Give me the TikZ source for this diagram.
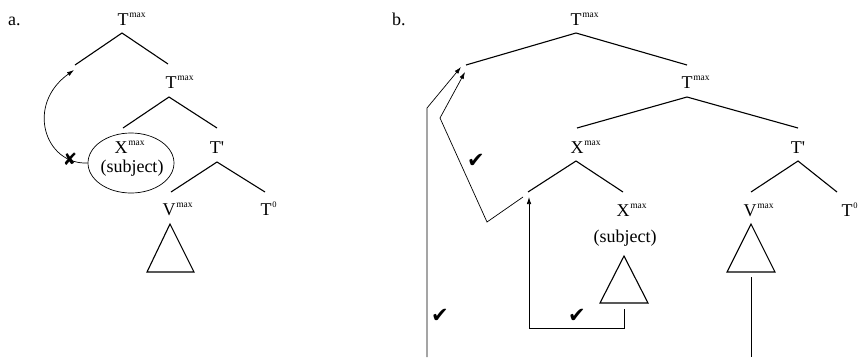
\documentclass[tikz,border=0pt]{standalone}
\usepackage{fontspec}
\setmainfont{Liberation Serif}
\newfontfamily\symf{DejaVu Sans}
\usetikzlibrary{arrows.meta,shapes.geometric}
\newcommand\smax{\rlap{\kern0.8pt\raisebox{7.6pt}{\fontsize{9.5}{10}\selectfont max}}}
\newcommand\szero{\rlap{\kern0.8pt\raisebox{7.5pt}{\fontsize{8.5}{9}\selectfont 0}}}
\tikzset{
  lab/.style={anchor=base, inner sep=0pt, font=\fontsize{18}{20}\selectfont},
  br/.style={line width=1.1pt},
  mv/.style={line width=0.7pt, -{Latex[length=7pt,width=4.5pt]}},
  ln/.style={line width=0.7pt},
  chk/.style={font=\symf\fontsize{21}{21}\selectfont, inner sep=0pt},
  tri/.style={line width=1.1pt}
}
\begin{document}
\begin{tikzpicture}[x=1pt,y=-1pt]
\useasboundingbox (0,0) rectangle (858,357);
% ---------------- panel a ----------------
\node[lab, anchor=base west] (alab) at (8,25) {a.};
\node[lab] (aT1) at (123,25) {T\smax};
\coordinate (aA1) at (122,33);
\coordinate (aL1) at (75,65);
\coordinate (aR1) at (168,64);
\draw[br] (aL1) -- (aA1) -- (aR1);
\node[lab] (aT2) at (171,88) {T\smax};
\coordinate (aA2) at (169,97);
\coordinate (aL2) at (123,128);
\coordinate (aR2) at (217,128);
\draw[br] (aL2) -- (aA2) -- (aR2);
\node[draw, ellipse, line width=0.7pt, minimum width=86pt, minimum height=60pt, inner sep=0pt] (subj) at (131,163) {};
\node[lab] (aX) at (121,153) {X\smax};
\node[lab] (asub) at (132,172) {(subject)};
\node[lab] (aTp) at (217,153) {T\textquotesingle};
\coordinate (aA3) at (217,162);
\coordinate (aL3) at (171,192);
\coordinate (aR3) at (265,192);
\draw[br] (aL3) -- (aA3) -- (aR3);
\node[lab] (aV) at (169,215) {V\smax};
\node[lab] (aT0) at (266,215) {T\szero};
\coordinate (atA) at (170,224);
\coordinate (atL) at (147,272);
\coordinate (atR) at (194,272);
\draw[tri] (atA) -- (atL) -- (atR) -- cycle;
\coordinate (atip) at (74,70);
\draw[mv] (subj.west) .. controls (45,165) and (25,105) .. (atip);
\node[font=\symf\fontsize{17}{17}\selectfont, inner sep=0pt] (across) at (70,159) {✘};
% ---------------- panel b ----------------
\node[lab, anchor=base west] (blab) at (392,25) {b.};
\node[lab] (bT1) at (576,25) {T\smax};
\coordinate (bA1) at (576,33);
\coordinate (bL1) at (466,65);
\coordinate (bR1) at (687,65);
\draw[br] (bL1) -- (bA1) -- (bR1);
\node[lab] (bT2) at (687,88) {T\smax};
\coordinate (bA2) at (687,97);
\coordinate (bL2) at (577,128);
\coordinate (bR2) at (798,128);
\draw[br] (bL2) -- (bA2) -- (bR2);
\node[lab] (bX) at (577,153) {X\smax};
\coordinate (bA3) at (576,161);
\coordinate (bL3) at (528,192);
\coordinate (bR3) at (623,192);
\draw[br] (bL3) -- (bA3) -- (bR3);
\node[lab] (bTp) at (798,153) {T\textquotesingle};
\coordinate (bA4) at (798,161);
\coordinate (bL4) at (751,192);
\coordinate (bR4) at (837,192);
\draw[br] (bL4) -- (bA4) -- (bR4);
\node[lab] (bX2) at (623,216) {X\smax};
\node[lab] (bsub) at (625,242) {(subject)};
\node[lab] (bV) at (750,216) {V\smax};
\node[lab] (bT0) at (847,216) {T\szero};
\coordinate (bsA) at (624,256);
\coordinate (bsL) at (600,303);
\coordinate (bsR) at (648,303);
\draw[tri] (bsA) -- (bsL) -- (bsR) -- cycle;
\coordinate (bvA) at (751,224);
\coordinate (bvL) at (727,272);
\coordinate (bvR) at (775,272);
\draw[tri] (bvA) -- (bvL) -- (bvR) -- cycle;
% vertical line below V triangle
\coordinate (bv1) at (751,277);
\coordinate (bv2) at (751,357);
\draw[ln] (bv1) -- (bv2);
% box arrow
\coordinate (bb1) at (624,309);
\coordinate (bb2) at (624,328);
\coordinate (bb3) at (529,328);
\coordinate (bb4) at (529,197);
\draw[mv] (bb1) -- (bb2) -- (bb3) -- (bb4);
% zigzag arrow
\coordinate (bz1) at (523,197);
\coordinate (bz2) at (487,222);
\coordinate (bz3) at (440,118);
\coordinate (bz4) at (465,72);
\draw[mv] (bz1) -- (bz2) -- (bz3) -- (bz4);
% outer arrow
\coordinate (bo1) at (427,357);
\coordinate (bo2) at (427,108);
\coordinate (bo3) at (461,67);
\draw[mv] (bo1) -- (bo2) -- (bo3);
% check marks
\node[chk] (c1) at (476,161) {✔};
\node[chk] (c2) at (440,316) {✔};
\node[chk] (c3) at (577,316) {✔};
\end{tikzpicture}
\end{document}
